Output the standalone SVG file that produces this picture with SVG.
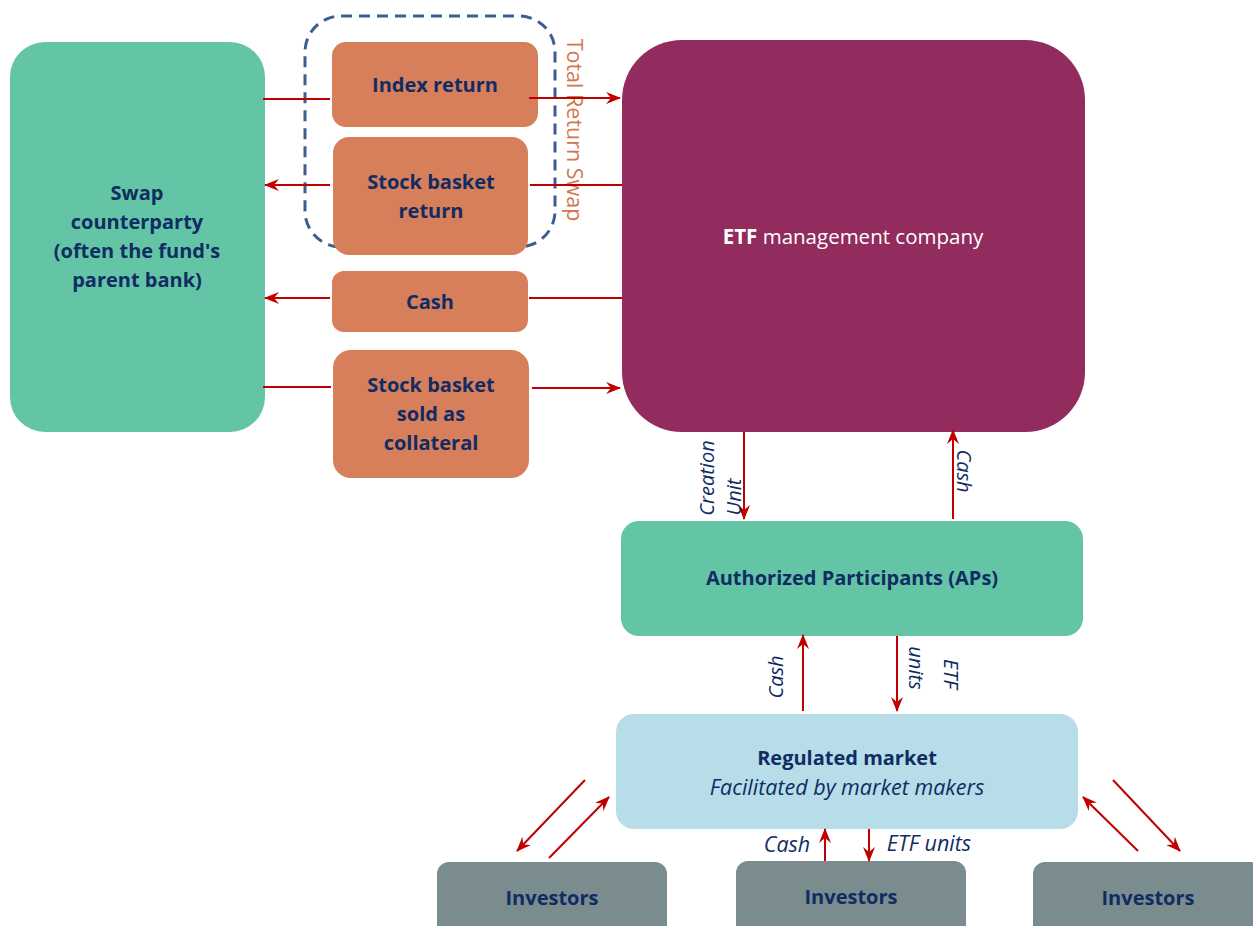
<svg xmlns="http://www.w3.org/2000/svg" width="1253" height="926" viewBox="0 0 1253 926">
<style>
.t{font-family:"Open Sans","Liberation Sans",sans-serif;fill:#102C63;text-anchor:middle}
.b{font-weight:bold;font-size:20px}
.i{font-style:italic;font-size:21.5px}
.v{font-style:italic;font-size:20px}
.c{stroke:#C00000;stroke-width:2;fill:none}
.a{marker-end:url(#ah)}
</style>
<defs>
<marker id="ah" viewBox="0 0 15 12" refX="14" refY="6" markerWidth="15" markerHeight="12" markerUnits="userSpaceOnUse" orient="auto">
<path d="M0,0 L15,6 L0,12 L5,6 Z" fill="#C00000"/>
</marker>
</defs>
<rect width="1253" height="926" fill="#fff"/>
<g id="swap">
<rect x="10" y="42" width="255" height="390" rx="35" fill="#63C5A5"/>
<text class="t b" x="137" y="200">Swap</text>
<text class="t b" x="137" y="229">counterparty</text>
<text class="t b" x="137" y="258">(often the fund's</text>
<text class="t b" x="137" y="287">parent bank)</text>
</g>
<g id="trs">
<rect x="305" y="16" width="250" height="231" rx="36" fill="none" stroke="#3B5F8F" stroke-width="3" stroke-dasharray="11,7"/>
<text x="575" y="130" transform="rotate(90 575 130)" font-family="'Open Sans','Liberation Sans',sans-serif" font-size="21.5" fill="#D4774F" text-anchor="middle" dominant-baseline="central">Total Return Swap</text>
</g>
<g id="index">
<rect x="332" y="42" width="206" height="85" rx="14" fill="#D77E5B"/>
<text class="t b" x="435" y="92">Index return</text>
</g>
<g id="sbr">
<rect x="333" y="137" width="195" height="118" rx="16" fill="#D77E5B"/>
<text class="t b" x="431" y="189">Stock basket</text>
<text class="t b" x="431" y="218">return</text>
</g>
<g id="cash">
<rect x="332" y="271" width="196" height="61" rx="12" fill="#D77E5B"/>
<text class="t b" x="430" y="309">Cash</text>
</g>
<g id="coll">
<rect x="333" y="350" width="196" height="128" rx="18" fill="#D77E5B"/>
<text class="t b" x="431" y="392">Stock basket</text>
<text class="t b" x="431" y="421">sold as</text>
<text class="t b" x="431" y="450">collateral</text>
</g>
<g id="etf">
<rect x="622" y="40" width="463" height="392" rx="60" fill="#922B5E"/>
<text x="853" y="244" font-family="'Open Sans','Liberation Sans',sans-serif" font-size="20.5" fill="#fff" text-anchor="middle"><tspan font-weight="bold">ETF</tspan> management company</text>
</g>
<g id="ap">
<rect x="621" y="521" width="462" height="115" rx="18" fill="#63C5A5"/>
<text class="t b" x="852" y="585">Authorized Participants (APs)</text>
</g>
<g id="market">
<rect x="616" y="714" width="462" height="115" rx="18" fill="#B6DDE8"/>
<text class="t b" x="847" y="765">Regulated market</text>
<text class="t i" x="847" y="795">Facilitated by market makers</text>
</g>
<g id="inv1">
<rect x="437" y="862" width="230" height="80" rx="12" fill="#7A8C8E"/>
<text class="t b" x="552" y="905">Investors</text>
</g>
<g id="inv2">
<rect x="736" y="861" width="230" height="80" rx="12" fill="#7A8C8E"/>
<text class="t b" x="851" y="904">Investors</text>
</g>
<g id="inv3">
<rect x="1033" y="862" width="230" height="80" rx="12" fill="#7A8C8E"/>
<text class="t b" x="1148" y="905">Investors</text>
</g>
<g id="connectors">
<path class="c" d="M263,99 H330"/>
<path class="c a" d="M529,98 H620"/>
<path class="c" d="M622,185 H530"/>
<path class="c a" d="M330,185 H265"/>
<path class="c" d="M622,298 H529"/>
<path class="c a" d="M330,298 H265"/>
<path class="c" d="M263,387 H331"/>
<path class="c a" d="M532,388 H620"/>
<path class="c a" d="M744,432 V519"/>
<path class="c a" d="M953,519 V430"/>
<path class="c a" d="M803,711 V635"/>
<path class="c a" d="M897,636 V711"/>
<path class="c a" d="M585,780 L517,851"/>
<path class="c a" d="M549,858 L609,797"/>
<path class="c a" d="M1138,851 L1083,797"/>
<path class="c a" d="M1113,780 L1180,851"/>
<path class="c a" d="M825,861 V829"/>
<path class="c a" d="M869,829 V861"/>
<text class="t v" x="706" y="478" transform="rotate(-90 706 478)" dominant-baseline="central">Creation</text>
<text class="t v" x="733" y="497" transform="rotate(-90 733 497)" dominant-baseline="central">Unit</text>
<text class="t v" x="964" y="471" transform="rotate(90 964 471)" dominant-baseline="central">Cash</text>
<text class="t v" x="775" y="677" transform="rotate(-90 775 677)" dominant-baseline="central">Cash</text>
<text class="t v" x="916" y="668" transform="rotate(90 916 668)" dominant-baseline="central">units</text>
<text class="t v" x="951" y="674" transform="rotate(90 951 674)" dominant-baseline="central">ETF</text>
<text class="t i" x="787" y="852">Cash</text>
<text class="t i" x="929" y="851">ETF units</text>
</g>
</svg>
